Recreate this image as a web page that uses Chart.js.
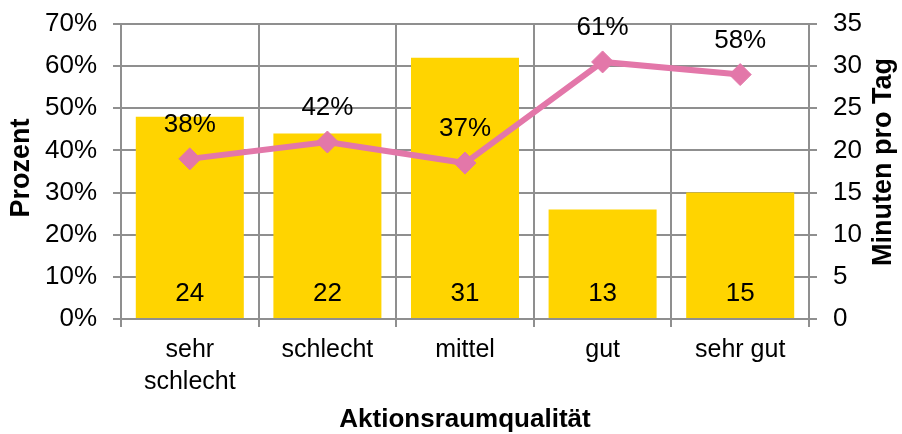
<!DOCTYPE html>
<html lang="de">
<head>
<meta charset="utf-8">
<script src="https://cdn.jsdelivr.net/npm/chart.js@4/dist/chart.umd.min.js"></script>
<style>
    html, body { margin: 0; padding: 0; background: #fff; }
    #wrap { width: 902px; height: 434px; }
</style>
</head>
<body>
<div id="wrap"><canvas id="chart" width="902" height="434"></canvas></div>
<script>
// Kategorien und Werte
const categories = [['sehr', 'schlecht'], 'schlecht', 'mittel', 'gut', 'sehr gut'];
const minutesPerDay = [24, 22, 31, 13, 15];
const percentShare = [0.38, 0.42, 0.37, 0.61, 0.58];

const FONT = "'Liberation Sans', Arial, sans-serif";
const GRID = '#8f8f8f';
const BAR_COLOR = '#FFD400';
const LINE_COLOR = '#E377A9';

function drawVerticalTitle(ctx, text, x, y) {
    ctx.save();
    ctx.translate(x, y);
    ctx.rotate(-Math.PI / 2);
    ctx.font = 'bold 27px ' + FONT;
    ctx.fillStyle = '#000';
    ctx.textAlign = 'center';
    ctx.textBaseline = 'middle';
    ctx.fillText(text, 0, 0);
    ctx.restore();
}

// feste Breite der Achse, ohne Extra-Abstand oben/unten für die Beschriftung
function fixWidth(w) {
    return scale => {
        scale.width = w;
        scale.paddingTop = 0;
        scale.paddingBottom = 0;
    };
}

// Werte an Balken und Punkte schreiben, Achsentitel links/rechts
const labelPlugin = {
    id: 'valueLabels',
    afterDatasetsDraw(chart) {
        const ctx = chart.ctx;
        ctx.save();
        ctx.fillStyle = '#000';
        ctx.font = '26px ' + FONT;
        ctx.textAlign = 'center';
        ctx.textBaseline = 'middle';

        const base = chart.scales.y1.getPixelForValue(0);
        chart.getDatasetMeta(1).data.forEach((el, i) => {
            ctx.fillText(String(minutesPerDay[i]), el.x, base - 25);
        });
        chart.getDatasetMeta(0).data.forEach((el, i) => {
            ctx.fillText(Math.round(percentShare[i] * 100) + '%', el.x, el.y - 34);
        });
        ctx.restore();
    },
    afterDraw(chart) {
        drawVerticalTitle(chart.ctx, 'Prozent', 22, 168);
        drawVerticalTitle(chart.ctx, 'Minuten pro Tag', 884, 162);
    }
};

new Chart(document.getElementById('chart'), {
    data: {
        labels: categories,
        datasets: [
            {
                type: 'line',
                label: 'Anteil',
                data: percentShare,
                yAxisID: 'y',
                borderColor: LINE_COLOR,
                backgroundColor: LINE_COLOR,
                borderWidth: 6,
                pointStyle: 'rectRot',
                pointRadius: 11,
                pointBorderWidth: 1,
                tension: 0,
                order: 0
            },
            {
                type: 'bar',
                label: 'Minuten',
                data: minutesPerDay,
                yAxisID: 'y1',
                backgroundColor: BAR_COLOR,
                categoryPercentage: 1,
                barPercentage: 0.785,
                order: 1
            }
        ]
    },
    options: {
        responsive: false,
        animation: false,
        layout: { padding: { top: 24, left: 0, right: 0, bottom: 0 } },
        plugins: {
            legend: { display: false },
            tooltip: { enabled: false }
        },
        scales: {
            x: {
                offset: true,
                grid: { color: GRID, lineWidth: 2, offset: true, tickLength: 8 },
                border: { color: GRID, width: 2 },
                ticks: {
                    color: '#000',
                    padding: 7,
                    maxRotation: 0,
                    font: { family: FONT, size: 25, lineHeight: 1.28 }
                },
                title: {
                    display: true,
                    text: 'Aktionsraumqualität',
                    color: '#000',
                    padding: { top: 0, bottom: 0 },
                    font: { family: FONT, size: 26, weight: 'bold', lineHeight: 1.1 }
                },
                afterFit(scale) { scale.height = 115; }
            },
            y: {
                position: 'left',
                min: 0,
                max: 0.7,
                ticks: {
                    stepSize: 0.1,
                    color: '#000',
                    padding: 16,
                    font: { family: FONT, size: 26 },
                    callback: v => Math.round(v * 100) + '%'
                },
                grid: { color: GRID, lineWidth: 2, tickLength: 8 },
                border: { color: GRID, width: 2 },
                afterFit: fixWidth(121)
            },
            y1: {
                position: 'right',
                min: 0,
                max: 35,
                ticks: {
                    stepSize: 5,
                    color: '#000',
                    padding: 16,
                    font: { family: FONT, size: 26 }
                },
                grid: { color: GRID, lineWidth: 2, tickLength: 8, drawOnChartArea: false },
                border: { color: GRID, width: 2 },
                afterFit: fixWidth(93)
            }
        }
    },
    plugins: [labelPlugin]
});
</script>
</body>
</html>
